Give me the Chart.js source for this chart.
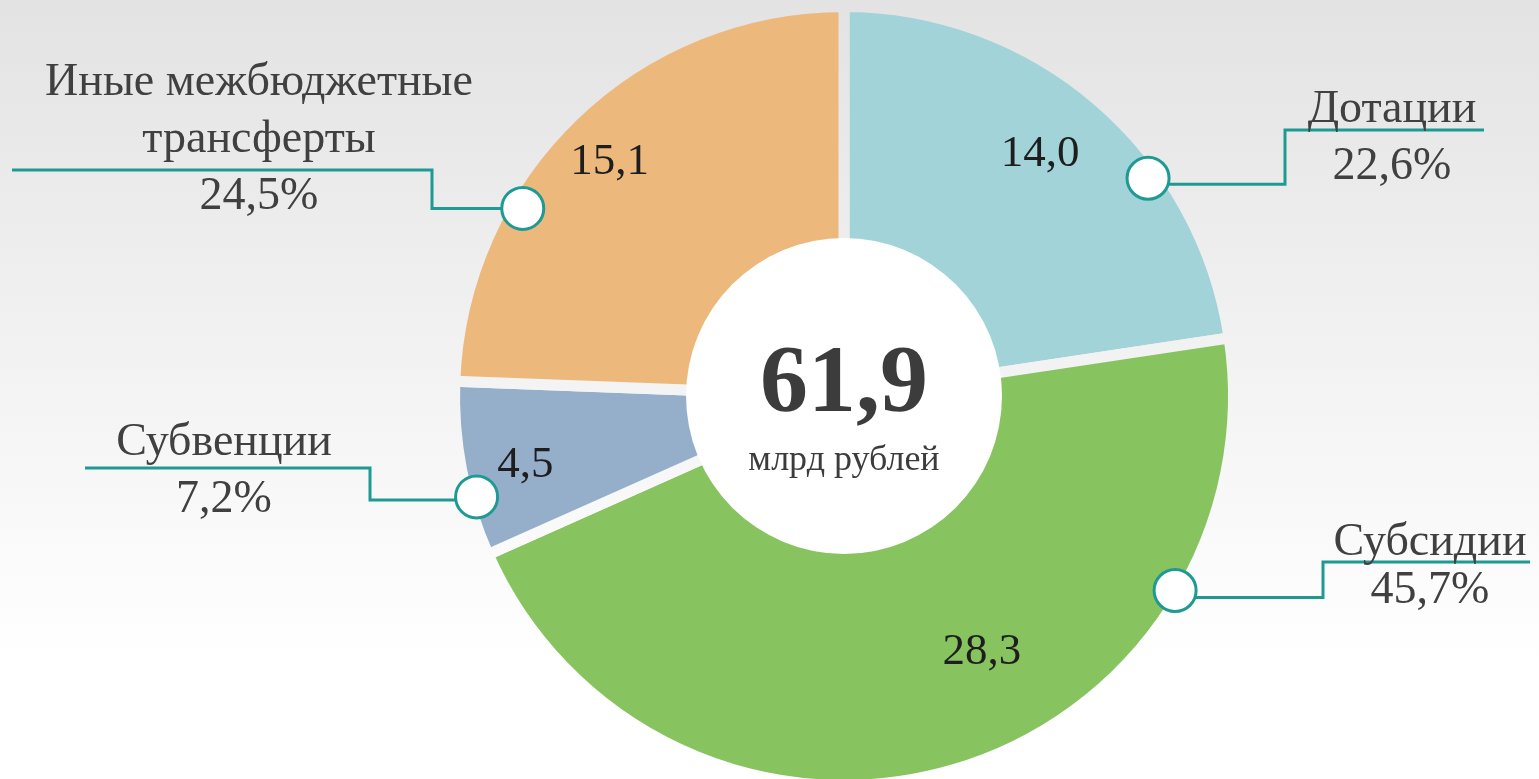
<!DOCTYPE html>
<html>
<head>
<meta charset="utf-8">
<script src="https://cdn.jsdelivr.net/npm/chart.js@4/dist/chart.umd.min.js"></script>
<style>
  html, body { margin: 0; padding: 0; overflow: hidden; background: #fff; }
  #chart { display: block; position: absolute; left: 0; top: 0; }
</style>
</head>
<body>
<canvas id="chart" width="1539" height="800"></canvas>
<script>
// data (млрд рублей), clockwise from 12 o'clock
var categories = ["Дотации", "Субсидии", "Субвенции", "Иные межбюджетные трансферты"];
var labelLines = [["Дотации"], ["Субсидии"], ["Субвенции"], ["Иные межбюджетные", "трансферты"]];
var values = [14.0, 28.3, 4.5, 15.1];
var shares = [22.6, 45.7, 7.2, 24.5];
var total = 61.9;
var totalUnit = "млрд рублей";

var colors = ["#a1d3d8", "#87c35f", "#95afcb", "#edb87b"];
var teal = "#1f9a93";
var font = "'Liberation Serif', 'DejaVu Serif', serif";

// callout layout: where the ring marker sits on the arc, and where the caption goes
// frac = position along the arc, r = distance from centre (px)
var callouts = [
    {frac: 0.668, r: 374, lineDy: 6, elbowX: 1285, topY: 130, endX: 1484, textX: 1392, base: [122, 179]},
    {frac: 0.237, r: 384, lineDy: 7, elbowX: 1323, topY: 562, endX: 1530, textX: 1430, base: [555, 603]},
    {frac: 0.330, r: 381, lineDy: 3, elbowX: 370, topY: 468, endX: 85, textX: 224, base: [455, 512]},
    {frac: 0.320, r: 372, lineDy: 0, elbowX: 432, topY: 170, endX: 12, textX: 259, base: [95, 152, 209]}
];
// value labels inside slices
var valuePos = [
    {frac: 0.48, r: 311},
    {frac: 0.427, r: 291},
    {frac: 0.45, r: 326},
    {frac: 0.487, r: 331}
];

function fmt(v) {
    return v.toFixed(1).replace(".", ",");
}

function bgGradient(ctx) {
    var g = ctx.createLinearGradient(0, 0, 0, 660);
    g.addColorStop(0, "#e3e3e3");
    g.addColorStop(1, "#ffffff");
    return g;
}

var backgroundPlugin = {
    id: "bg",
    beforeDraw: function (chart) {
        var c = chart.ctx;
        c.save();
        c.fillStyle = bgGradient(c);
        c.fillRect(0, 0, chart.width, chart.height);
        c.restore();
    }
};

function pointOn(arc, frac, r) {
    var a = arc.startAngle + frac * (arc.endAngle - arc.startAngle);
    return {x: arc.x + Math.cos(a) * r, y: arc.y + Math.sin(a) * r};
}

var labelsPlugin = {
    id: "labels",
    afterDatasetsDraw: function (chart) {
        var c = chart.ctx;
        var arcs = chart.getDatasetMeta(0).data;
        var cx = arcs[0].x, cy = arcs[0].y;
        c.save();

        // white hole in the middle
        c.beginPath();
        c.arc(cx, cy, 158, 0, Math.PI * 2);
        c.fillStyle = "#ffffff";
        c.fill();

        c.textAlign = "center";
        c.fillStyle = "#3c3c3c";
        c.font = "bold 96px " + font;
        c.textBaseline = "alphabetic";
        c.fillText(fmt(total), cx, cy + 15);
        c.font = "36px " + font;
        c.fillText(totalUnit, cx, cy + 74);

        // values inside slices
        c.fillStyle = "#1e1e1e";
        c.font = "45px " + font;
        c.textBaseline = "middle";
        for (var i = 0; i < arcs.length; i++) {
            var p = pointOn(arcs[i], valuePos[i].frac, valuePos[i].r);
            c.fillText(fmt(values[i]), p.x, p.y);
        }

        // callouts
        for (i = 0; i < arcs.length; i++) {
            var o = callouts[i];
            var m = pointOn(arcs[i], o.frac, o.r);
            var ly = m.y + o.lineDy;
            c.strokeStyle = teal;
            c.lineWidth = 3;
            c.beginPath();
            c.moveTo(m.x, ly);
            c.lineTo(o.elbowX, ly);
            c.lineTo(o.elbowX, o.topY);
            c.lineTo(o.endX, o.topY);
            c.stroke();

            c.beginPath();
            c.arc(m.x, m.y, 21, 0, Math.PI * 2);
            c.fillStyle = "#ffffff";
            c.fill();
            c.lineWidth = 3;
            c.stroke();

            c.fillStyle = "#404040";
            c.font = "46px " + font;
            c.textBaseline = "alphabetic";
            var lines = labelLines[i];
            for (var j = 0; j < lines.length; j++) {
                c.fillText(lines[j], o.textX, o.base[j]);
            }
            c.fillText(fmt(shares[i]) + "%", o.textX, o.base[lines.length]);
        }
        c.restore();
    }
};

var ctx = document.getElementById("chart").getContext("2d");
var chart = new Chart(ctx, {
    type: "doughnut",
    data: {
        labels: categories,
        datasets: [{
            data: values,
            backgroundColor: colors,
            borderColor: function (context) {
                return bgGradient(context.chart.ctx);
            },
            borderWidth: 11,
            borderAlign: "center",
            borderJoinStyle: "miter"
        }]
    },
    options: {
        responsive: false,
        animation: false,
        events: [],
        cutout: 150,
        layout: {
            padding: {left: 449, right: 300, top: 1, bottom: 9}
        },
        plugins: {
            legend: {display: false},
            tooltip: {enabled: false}
        }
    },
    plugins: [backgroundPlugin, labelsPlugin]
});
</script>
</body>
</html>
